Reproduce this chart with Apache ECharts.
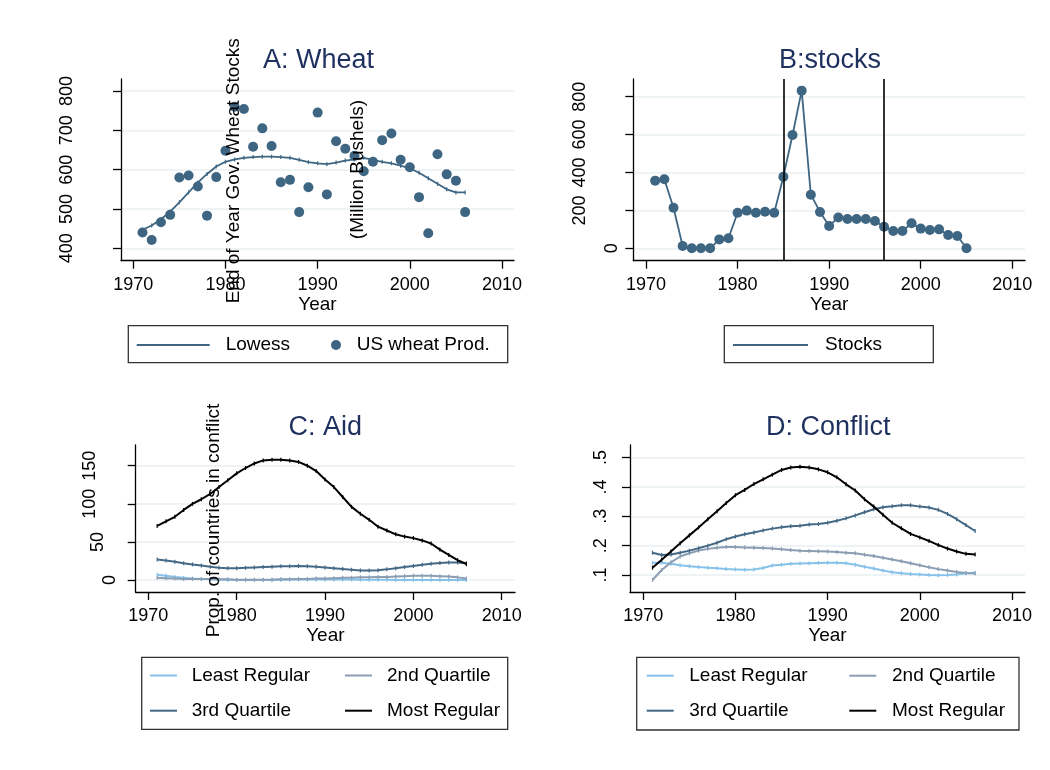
<!DOCTYPE html>
<html>
<head>
<meta charset="utf-8">
<title>Wheat, stocks, aid and conflict</title>
<script src="https://cdn.jsdelivr.net/npm/echarts@6/dist/echarts.min.js"></script>
<style>
  html, body { margin: 0; padding: 0; background: #fff; }
  #chart { width: 1050px; height: 770px; }
</style>
</head>
<body>
<div id="chart"></div>
<script>
// ---- data ----
const years = [1971, 1972, 1973, 1974, 1975, 1976, 1977, 1978, 1979, 1980,
  1981, 1982, 1983, 1984, 1985, 1986, 1987, 1988, 1989, 1990,
  1991, 1992, 1993, 1994, 1995, 1996, 1997, 1998, 1999, 2000,
  2001, 2002, 2003, 2004, 2005, 2006]
const stockYears = [1971, 1972, 1973, 1974, 1975, 1976, 1977, 1978, 1979, 1980,
  1981, 1982, 1983, 1984, 1985, 1986, 1987, 1988, 1989, 1990,
  1991, 1992, 1993, 1994, 1995, 1996, 1997, 1998, 1999, 2000,
  2001, 2002, 2003, 2004, 2005]
const xTicks = [1970, 1980, 1990, 2000, 2010]

// A: Wheat
const wheatProd = [440, 421, 466, 485, 580, 585, 557, 483, 581, 648,
  760, 754, 658, 705, 660, 568, 574, 492, 555, 745,
  537, 672, 653, 635, 596, 620, 675, 692, 625, 606,
  530, 438, 639, 588, 572, 492]
const wheatLowess = [447, 458, 474, 493, 517, 542, 567, 589, 608, 620,
  626, 630, 632, 633, 633, 632, 630, 625, 619, 616,
  614, 618, 623, 626, 630, 625, 620, 616, 610, 603,
  592, 578, 564, 550, 542, 542]
const wheatTicks = [400, 500, 600, 700, 800]

// B: stocks
const stocks = [357, 364, 214, 12, 0, 0, 0, 47, 53, 188,
  199, 188, 193, 188, 378, 598, 832, 283, 192, 118,
  163, 155, 155, 155, 144, 114, 91, 91, 132, 104,
  97, 100, 70, 65, 0]
const stockMarkYears = [1985, 1996]
const stockTicks = [0, 200, 400, 600, 800]

// C: Aid
const aidLeast = [7, 5.5, 4, 3, 2, 1.5, 1, 0.5, 0.3, 0.2,
  0.2, 0.2, 0.2, 0.3, 0.5, 0.6, 0.7, 0.8, 0.8, 0.8,
  0.8, 0.7, 0.6, 0.5, 0.4, 0.3, 0.3, 0.2, 0.2, 0.2,
  0.2, 0.2, 0.2, 0.2, 0.2, 0.2]
const aidSecond = [3, 2.5, 2, 1.5, 1.5, 1.5, 1.5, 1, 1, 0.5,
  0.5, 0.5, 0.5, 0.5, 1, 1, 1.5, 1.5, 2, 2,
  2.5, 3, 3, 3.5, 3.5, 4, 4, 4.5, 5, 5.5,
  5.5, 5.5, 5, 4.5, 3.5, 2]
const aidThird = [27, 25.5, 24, 22, 20.5, 19, 17.5, 16, 15.5, 15.5,
  16, 16.5, 17, 17.5, 18, 18, 18.5, 18, 17.5, 16.5,
  15.5, 14.5, 13.5, 12.5, 12.5, 13, 14, 15.5, 17, 18.5,
  20, 21.5, 22.5, 23, 23, 22]
const aidMost = [71, 77, 83, 92, 100, 106, 113, 122, 131, 140,
  147, 153, 157, 158, 158, 157, 155, 150, 143, 132,
  122, 109, 96, 87, 79, 70, 65, 60, 57, 55,
  52, 48, 40, 33, 26, 21]
const aidTicks = [0, 50, 100, 150]

// D: Conflict
const confLeast = [0.142, 0.142, 0.138, 0.133, 0.130, 0.127, 0.125, 0.123, 0.120, 0.119,
  0.118, 0.119, 0.124, 0.132, 0.135, 0.138, 0.139, 0.140, 0.141, 0.142,
  0.142, 0.140, 0.135, 0.128, 0.122, 0.115, 0.109, 0.106, 0.103, 0.102,
  0.100, 0.099, 0.100, 0.102, 0.106, 0.108]
const confSecond = [0.083, 0.117, 0.143, 0.163, 0.174, 0.183, 0.189, 0.193, 0.195, 0.195,
  0.194, 0.193, 0.192, 0.190, 0.188, 0.185, 0.183, 0.182, 0.181, 0.180,
  0.178, 0.176, 0.174, 0.169, 0.165, 0.159, 0.153, 0.147, 0.140, 0.133,
  0.126, 0.120, 0.115, 0.110, 0.107, 0.105]
const confThird = [0.176, 0.168, 0.170, 0.176, 0.183, 0.191, 0.200, 0.210, 0.222, 0.231,
  0.239, 0.245, 0.252, 0.258, 0.263, 0.266, 0.268, 0.272, 0.274, 0.278,
  0.285, 0.293, 0.303, 0.314, 0.324, 0.331, 0.334, 0.338, 0.338, 0.333,
  0.330, 0.322, 0.308, 0.290, 0.270, 0.250]
const confMost = [0.125, 0.152, 0.180, 0.208, 0.235, 0.262, 0.290, 0.317, 0.345, 0.372,
  0.390, 0.410, 0.426, 0.442, 0.458, 0.466, 0.469, 0.466, 0.460, 0.450,
  0.433, 0.409, 0.388, 0.358, 0.333, 0.305, 0.278, 0.259, 0.240, 0.228,
  0.216, 0.202, 0.190, 0.180, 0.172, 0.170]
const confTicks = [0.1, 0.2, 0.3, 0.4, 0.5]

// ---- style ----
const FONT = '"Liberation Sans", Arial, sans-serif'
const NAVY = '#3e6582'
const TITLE = '#1e305d'
const GRIDLINE = '#e8f0f2'
const C_LEAST = '#86c1ea'
const C_SECOND = '#8a9db2'
const C_THIRD = '#456985'
const C_MOST = '#000000'

const pairs = (xs, ys) => xs.map((x, i) => [x, ys[i]])

function xAxisFor(gridIndex, min, max) {
  return {
    type: 'value', gridIndex, min, max,
    axisLine: { show: true, onZero: false, lineStyle: { color: '#000', width: 1.3 } },
    axisTick: { show: true, length: 8, customValues: xTicks, lineStyle: { color: '#000', width: 1.3 } },
    axisLabel: {
      customValues: xTicks, margin: 15, fontSize: 18, color: '#000', fontFamily: FONT,
      formatter: v => String(v)
    },
    splitLine: { show: false },
    name: 'Year', nameLocation: 'middle', nameGap: 34.5,
    nameTextStyle: { fontSize: 19, color: '#000', fontFamily: FONT }
  }
}

function yAxisFor(gridIndex, min, max, ticks, margin, formatter, rich) {
  return {
    type: 'value', gridIndex, min, max,
    axisLine: { show: true, onZero: false, lineStyle: { color: '#000', width: 1.3 } },
    axisTick: { show: true, length: 8, customValues: ticks, lineStyle: { color: '#000', width: 1.3 } },
    axisLabel: {
      customValues: ticks, rotate: 90, margin, fontSize: 18, color: '#000', fontFamily: FONT,
      formatter, rich
    },
    splitLine: { show: true, lineStyle: { color: GRIDLINE, width: 1.6 } }
  }
}

function legendItem(name, left, cy, w, h, icon, pad) {
  return {
    data: [name], left, top: cy - 10, padding: 0, icon,
    itemWidth: w, itemHeight: h, selectedMode: false,
    textStyle: { fontSize: 19, lineHeight: 20, color: '#000', fontFamily: FONT, padding: [0, 0, 0, pad] }
  }
}

function lineSeries(name, x, y, data, color) {
  return {
    name, type: 'line', xAxisIndex: x, yAxisIndex: y, data,
    symbol: 'rect', symbolSize: [1.2, 4], showAllSymbol: true,
    lineStyle: { color, width: 2 }, itemStyle: { color }
  }
}

const labelRich = (pad) => ({ fontSize: 18, color: '#000', fontFamily: FONT, padding: [0, 0, pad, 0] })

function boxRect(x, y, w, h) {
  return { type: 'rect', silent: true, z: 10, shape: { x, y, width: w, height: h },
    style: { fill: 'none', stroke: '#333', lineWidth: 1.3 } }
}
function titleText(text, x, y) {
  return { type: 'text', silent: true, z: 10, x, y,
    style: { text, fontSize: 27, fontFamily: FONT, fill: TITLE, align: 'center', verticalAlign: 'middle' } }
}
function sideText(text, x, y) {
  return { type: 'text', silent: true, z: 10, x, y, rotation: Math.PI / 2,
    style: { text, fontSize: 19, fontFamily: FONT, fill: '#000', align: 'center', verticalAlign: 'middle' } }
}

const chart = echarts.init(document.getElementById('chart'), null, { renderer: 'canvas' })

chart.setOption({
  animation: false,
  backgroundColor: '#fff',
  grid: [
    { left: 121, top: 79, width: 393, height: 181.7 },
    { left: 633.3, top: 79, width: 391.7, height: 181.7 },
    { left: 135.7, top: 445, width: 379.3, height: 147 },
    { left: 630, top: 445, width: 395, height: 147 }
  ],
  xAxis: [
    xAxisFor(0, 1968.67, 2011.3),
    xAxisFor(1, 1968.61, 2011.39),
    xAxisFor(2, 1968.57, 2011.5),
    xAxisFor(3, 1968.56, 2011.41)
  ],
  yAxis: [
    yAxisFor(0, 368.4, 830.5, wheatTicks, 45, v => String(v)),
    yAxisFor(1, -65.4, 893.4, stockTicks, 12,
      v => (v === 0 ? '{z|0}' : '{n|' + v + '}'),
      { z: labelRich(0), n: labelRich(32) }),
    yAxisFor(2, -15.7, 177.2, aidTicks, 17,
      v => (v === 0 ? '{a|0}' : v === 50 ? '{b|50}' : '{c|' + v + '}'),
      { a: labelRich(0), b: labelRich(12), c: labelRich(20) }),
    yAxisFor(3, 0.042, 0.543, confTicks, 20, v => String(v).replace('0.', '.'))
  ],
  legend: [
    legendItem('Lowess', 136.7, 345, 73, 2, 'rect', 11),
    legendItem('US wheat Prod.', 331, 345, 10, 10, 'circle', 10.7),
    legendItem('Stocks', 733, 345, 75, 2, 'rect', 12),
    // C legend
    legendItem('Least Regular', 150, 675.5, 27, 2, 'rect', 9.7),
    legendItem('2nd Quartile', 345, 675.5, 27, 2, 'rect', 10),
    legendItem('3rd Quartile', 150, 710.7, 27, 2, 'rect', 9.7),
    legendItem('Most Regular', 345, 710.7, 27, 2, 'rect', 10),
    // D legend
    legendItem('Least Regular', 646.7, 675.7, 27, 2, 'rect', 10.6),
    legendItem('2nd Quartile', 849.3, 675.7, 27, 2, 'rect', 10.7),
    legendItem('3rd Quartile', 646.7, 710.7, 27, 2, 'rect', 10.6),
    legendItem('Most Regular', 849.3, 710.7, 27, 2, 'rect', 10.7)
  ],
  graphic: [
    titleText('A: Wheat', 318.5, 61),
    titleText('B:stocks', 830, 60.5),
    titleText('C: Aid', 325.3, 427.5),
    titleText('D: Conflict', 828.3, 427.5),
    sideText('End of Year Gov. Wheat Stocks', 233.5, 170.8),
    sideText('(Million Bushels)', 357.5, 169.5),
    sideText('Prop. of countries in conflict', 214, 520.5),
    boxRect(128.3, 325.7, 379.4, 37),
    boxRect(724.3, 325.7, 209, 37),
    boxRect(141.7, 657.3, 366, 72),
    boxRect(636.7, 657.3, 382.3, 72.7)
  ],
  series: [
    Object.assign(lineSeries('Lowess', 0, 0, pairs(years, wheatLowess), NAVY), { lineStyle: { color: NAVY, width: 1.8 } }),
    {
      name: 'US wheat Prod.', type: 'scatter', xAxisIndex: 0, yAxisIndex: 0,
      data: pairs(years, wheatProd), symbolSize: 10, itemStyle: { color: NAVY, opacity: 1 }
    },
    {
      name: 'Stocks', type: 'line', xAxisIndex: 1, yAxisIndex: 1,
      data: pairs(stockYears, stocks), symbol: 'circle', symbolSize: 10, showAllSymbol: true,
      lineStyle: { color: NAVY, width: 1.8 }, itemStyle: { color: NAVY },
      markLine: {
        silent: true, symbol: ['none', 'none'], label: { show: false },
        lineStyle: { color: '#000', type: 'solid', width: 1.6 },
        data: stockMarkYears.map(y => ({ xAxis: y }))
      }
    },
    lineSeries('Least Regular', 2, 2, pairs(years, aidLeast), C_LEAST),
    lineSeries('2nd Quartile', 2, 2, pairs(years, aidSecond), C_SECOND),
    lineSeries('3rd Quartile', 2, 2, pairs(years, aidThird), C_THIRD),
    lineSeries('Most Regular', 2, 2, pairs(years, aidMost), C_MOST),
    lineSeries('Least Regular', 3, 3, pairs(years, confLeast), C_LEAST),
    lineSeries('2nd Quartile', 3, 3, pairs(years, confSecond), C_SECOND),
    lineSeries('3rd Quartile', 3, 3, pairs(years, confThird), C_THIRD),
    lineSeries('Most Regular', 3, 3, pairs(years, confMost), C_MOST)
  ]
})
</script>
</body>
</html>
